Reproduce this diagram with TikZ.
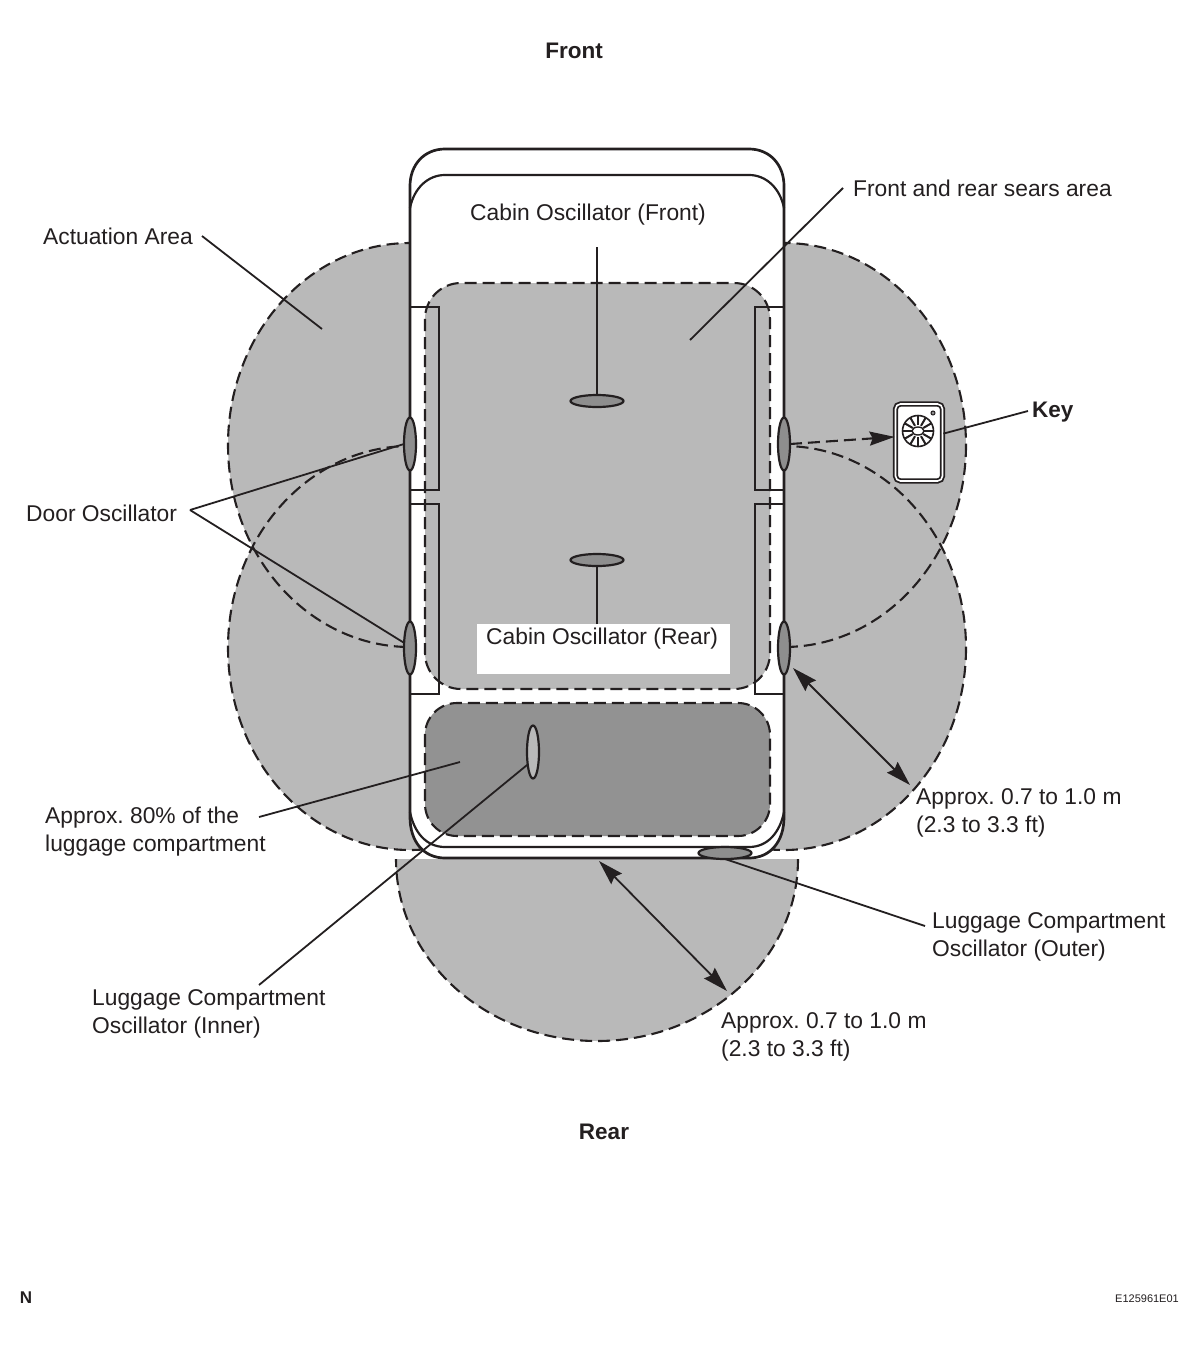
\documentclass[tikz,border=0pt]{standalone}
\usepackage{fontspec}
\setmainfont{Liberation Sans}
\usetikzlibrary{arrows.meta,shapes.geometric}
\definecolor{areagray}{HTML}{B9B9B9}
\definecolor{luggray}{HTML}{929292}
\definecolor{oscgray}{HTML}{8E8E8E}
\definecolor{inkc}{HTML}{231F20}
\frenchspacing
\tikzset{
  areaedge/.style={draw=inkc,line width=2.1pt,dash pattern=on 12pt off 6pt},
  carline/.style={draw=inkc,line width=2.7pt},
  doorline/.style={draw=inkc,line width=2.2pt},
  leader/.style={draw=inkc,line width=1.8pt},
  label/.style={font=\fontsize{22.8}{27.3}\selectfont,text=inkc,inner sep=0pt,align=left,anchor=west},
  boldlabel/.style={font=\fontsize{22.5}{27}\selectfont\bfseries,text=inkc,inner sep=0pt},
  span/.style={leader,{Stealth[length=25pt,width=15pt,inset=3pt]}-{Stealth[length=25pt,width=15pt,inset=3pt]}},
  oscH/.style={draw=inkc,line width=2.2pt,fill=oscgray,shape=ellipse,minimum width=53pt,minimum height=12pt,inner sep=0pt,outer sep=0pt},
  oscV/.style={draw=inkc,line width=2.2pt,fill=oscgray,shape=ellipse,minimum width=12pt,minimum height=53pt,inner sep=0pt,outer sep=0pt}
}
\begin{document}
\begin{tikzpicture}[x=1pt,y=-1pt]
\useasboundingbox (0,0) rectangle (1200,1347);
\fill[white] (0,0) rectangle (1200,1347);
% actuation areas
\fill[areagray] (410,445) ellipse [x radius=182,y radius=202];
\fill[areagray] (410,648) ellipse [x radius=182,y radius=202];
\fill[areagray] (784,445) ellipse [x radius=182,y radius=202];
\fill[areagray] (784,648) ellipse [x radius=182,y radius=202];
\begin{scope}
  \clip (380,859) rectangle (820,1060);
  \fill[areagray] (597,859) ellipse [x radius=201,y radius=182];
  \draw[areaedge] (597,859) ellipse [x radius=201,y radius=182];
\end{scope}
\draw[areaedge] (410,445) ellipse [x radius=182,y radius=202];
\draw[areaedge] (410,648) ellipse [x radius=182,y radius=202];
\draw[areaedge] (784,445) ellipse [x radius=182,y radius=202];
\draw[areaedge] (784,648) ellipse [x radius=182,y radius=202];
% car body
\path[fill=white] (410,186) .. controls (410,165) and (424,149) .. (445,149) -- (749,149) .. controls (770,149) and (784,165) .. (784,186) -- (784,817) .. controls (784,842) and (770,858) .. (749,858) -- (445,858) .. controls (424,858) and (410,842) .. (410,817) -- cycle;
% interior areas
\draw[areaedge,fill=areagray,rounded corners=36pt] (425,283) rectangle (770,689);
\draw[areaedge,fill=luggray,rounded corners=32pt] (425,703) rectangle (770,836);
% car outlines
\draw[carline] (410,186) .. controls (410,165) and (424,149) .. (445,149) -- (749,149) .. controls (770,149) and (784,165) .. (784,186) -- (784,817) .. controls (784,842) and (770,858) .. (749,858) -- (445,858) .. controls (424,858) and (410,842) .. (410,817) -- cycle;
\draw[doorline] (410,208) .. controls (414,188) and (428,175) .. (445,175) -- (749,175) .. controls (766,175) and (780,188) .. (784,208);
\draw[doorline] (410,812) .. controls (414,832) and (426,847) .. (445,847) -- (749,847) .. controls (768,847) and (780,832) .. (784,812);
% doors
\draw[doorline] (410,307) -- (439,307) -- (439,490) -- (410,490);
\draw[doorline] (410,504) -- (439,504) -- (439,694) -- (410,694);
\draw[doorline] (784,307) -- (755,307) -- (755,490) -- (784,490);
\draw[doorline] (784,504) -- (755,504) -- (755,694) -- (784,694);
% rear label mask
\fill[white] (477,624) rectangle (730,674);
% oscillators
\node[oscH] (cabF) at (597,401) {};
\node[oscH] (cabR) at (597,560) {};
\node[oscV] (doorLF) at (410,444) {};
\node[oscV] (doorLR) at (410,648) {};
\node[oscV] (doorRF) at (784,444) {};
\node[oscV] (doorRR) at (784,648) {};
\node[oscV,fill=areagray] (lugIn) at (533,752) {};
\node[oscH] (lugOut) at (725,853) {};
% key
\node[draw=inkc,line width=1.8pt,fill=white,double=white,double distance=1.6pt,rounded corners=5pt,minimum width=47pt,minimum height=77pt,inner sep=0pt] (keyfob) at (919,442.5) {};
\draw[inkc,line width=1.6pt,fill=white] (918,431) circle (15.5);
\foreach \a in {0,30,...,330} \draw[inkc,line width=2pt] (918,431) +(\a:6) -- +(\a:15);
\draw[inkc,line width=1.4pt,fill=white] (918,431) ellipse [x radius=6,y radius=4];
\draw[inkc,line width=1pt,fill=oscgray] (933,413) circle (2);
% labels
\node[boldlabel] (front) at (574,51) {Front};
\node[boldlabel] (rear) at (604,1132) {Rear};
\node[boldlabel,anchor=west] (keyl) at (1032,412) {Key};
\node[label] (cfl) at (470,215) {Cabin Oscillator (Front)};
\node[label] (crl) at (486,639) {Cabin Oscillator (Rear)};
\node[label] (aal) at (43,236) {Actuation Area};
\node[label] (frl) at (853,188) {Front and rear sears area};
\node[label] (dol) at (26,513) {Door Oscillator};
\node[label] (pctl) at (45,831.5) {Approx. 80\% of the\\luggage compartment};
\node[label] (inl) at (92,1014) {Luggage Compartment\\Oscillator (Inner)};
\node[label] (outl) at (932,937) {Luggage Compartment\\Oscillator (Outer)};
\node[label] (d1l) at (916,813) {Approx. 0.7 to 1.0 m\\(2.3 to 3.3 ft)};
\node[label] (d2l) at (721,1037) {Approx. 0.7 to 1.0 m\\(2.3 to 3.3 ft)};
\node[font=\bfseries\fontsize{17}{20}\selectfont,text=inkc,inner sep=0pt] (nl) at (26,1298) {N};
\node[font=\fontsize{11}{13}\selectfont,text=inkc,inner sep=0pt] (codel) at (1147,1299) {E125961E01};
% free ends
\coordinate (aaT) at (322,329);
\coordinate (frT) at (690,340);
\coordinate (doS) at (190,510);
\coordinate (pctT) at (460,762);
\coordinate (cfS) at (597,247);
\coordinate (crS) at (597,624);
\coordinate (aaS) at (202,236);
\coordinate (frS) at (843,188);
\coordinate (pctS) at (259,817);
\coordinate (inS) at (259,985);
\coordinate (outS) at (925,926);
\coordinate (keyS) at (1028,411);
\coordinate (d1A) at (793,668);
\coordinate (d1B) at (910,785);
\coordinate (d2A) at (599,861);
\coordinate (d2B) at (727,991);
% leaders
\draw[leader] (aaS) -- (aaT);
\draw[leader] (frS) -- (frT);
\draw[leader] (cfS) -- (cabF);
\draw[leader] (crS) -- (cabR);
\draw[leader] (doS) -- (doorLF.180);
\draw[leader] (doS) -- (doorLR.139);
\draw[leader] (pctS) -- (pctT);
\draw[leader] (inS) -- (lugIn.247);
\draw[leader] (outS) -- (lugOut.south);
\draw[leader] (keyS) -- (keyfob.20);
\draw[span] (d1A) -- (d1B);
\draw[span] (d2A) -- (d2B);
\draw[leader,line width=2.1pt,dash pattern=on 12pt off 6pt,-{Stealth[length=25pt,width=14pt,inset=3pt]}] (doorRF.east) -- (keyfob.167);
\end{tikzpicture}
\end{document}
